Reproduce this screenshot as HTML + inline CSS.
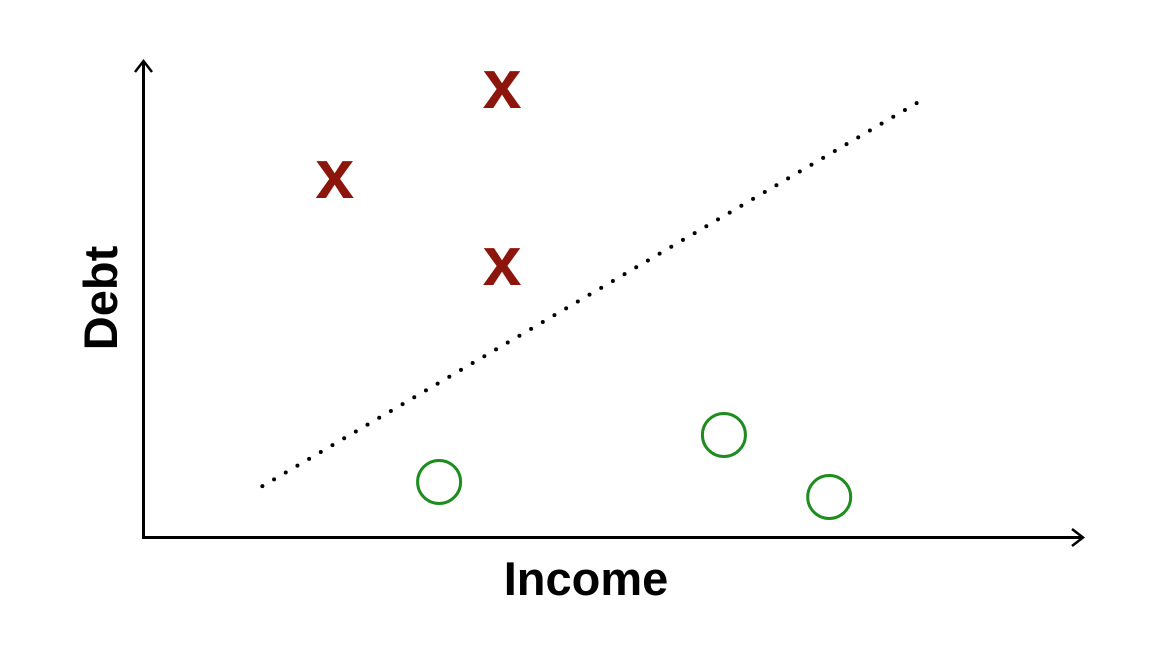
<!DOCTYPE html>
<html><head><meta charset="utf-8"><style>
html,body{margin:0;padding:0;background:#fff;}
svg{display:block;}
text{font-family:"Liberation Sans",Arial,sans-serif;font-weight:bold;}
</style></head><body>
<svg id="chart" width="1166" height="648" viewBox="0 0 1166 648">
<g id="axes">
<line x1="143" y1="537.5" x2="1082" y2="537.5" stroke="#000" stroke-width="3"/>
<polyline points="1072,529 1083,537.5 1072,546" fill="none" stroke="#000" stroke-width="2.5"/>
<line x1="143.5" y1="539" x2="143.5" y2="62" stroke="#000" stroke-width="3"/>
<polyline points="135,72 143.5,61 152,72" fill="none" stroke="#000" stroke-width="2.5"/>
<text x="586" y="595" font-size="47" text-anchor="middle">Income</text>
<text x="0" y="0" font-size="47" text-anchor="middle" transform="translate(117,298) rotate(-90)">Debt</text>
</g>
<g id="marks"></g>
</svg>
<script>
const circleX = [3.15, 6.18, 7.30];
const circleY = [1.15, 2.15, 0.83];
const crossX = [2.04, 3.82, 3.82];
const crossY = [7.57, 9.49, 5.72];
const boundaryX = [1.27, 8.23];
const boundaryY = [1.06, 9.21];

const xScale = v => 143 + v * 94;
const yScale = v => 536 - v * 47;
const NS = "http://www.w3.org/2000/svg";
const g = document.getElementById('marks');

// dotted boundary
const x1 = xScale(boundaryX[0]), y1 = yScale(boundaryY[0]);
const x2 = xScale(boundaryX[1]), y2 = yScale(boundaryY[1]);
const len = Math.hypot(x2 - x1, y2 - y1);
const n = Math.round(len / 13.55);
const bg = document.createElementNS(NS, 'g');


g.appendChild(bg);
for (let i = 0; i <= n; i++) {
  const c = document.createElementNS(NS, 'circle');
  c.setAttribute('cx', x1 + (x2 - x1) * i / n);
  c.setAttribute('cy', y1 + (y2 - y1) * i / n);
  c.setAttribute('r', 2);
  c.setAttribute('fill', '#000');
  
  
  bg.appendChild(c);
}
for (let i = 0; i < circleX.length; i++) {
  const c = document.createElementNS(NS, 'circle');
  c.setAttribute('cx', xScale(circleX[i]));
  c.setAttribute('cy', yScale(circleY[i]));
  c.setAttribute('r', 21.5);
  c.setAttribute('fill', 'none');
  c.setAttribute('stroke', '#1e8c1e');
  c.setAttribute('stroke-width', 3);
  
  
  g.appendChild(c);
}
for (let i = 0; i < crossX.length; i++) {
  const t = document.createElementNS(NS, 'text');
  t.setAttribute('x', xScale(crossX[i]));
  t.setAttribute('y', yScale(crossY[i]) + 18);
  t.setAttribute('font-size', 70);
  t.setAttribute('text-anchor', 'middle');
  t.setAttribute('fill', '#8c150c');
  
  
  t.textContent = 'x';
  g.appendChild(t);
}
</script>
</body></html>
